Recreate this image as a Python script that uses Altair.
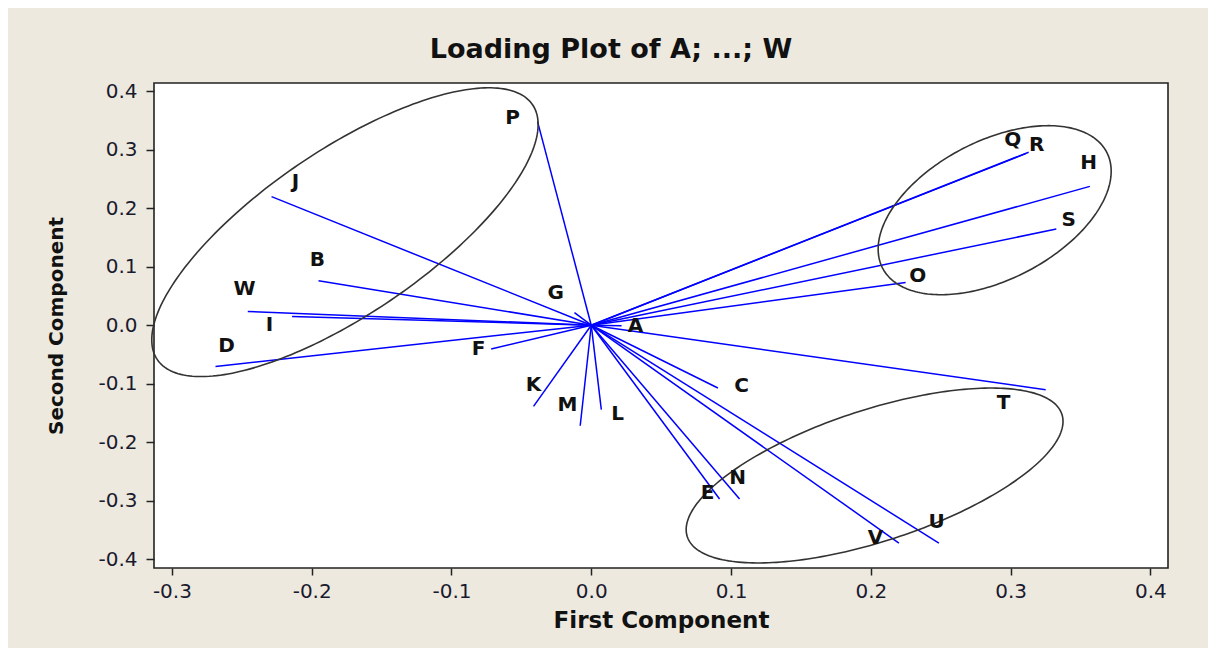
import altair as alt
import numpy as np
import pandas as pd

# ---- data ----
variables = ["A", "B", "C", "D", "E", "F", "G", "H", "I", "J", "K", "L",
             "M", "N", "O", "P", "Q", "R", "S", "T", "U", "V", "W"]
first_comp = [0.0217, -0.1951, 0.0906, -0.2688, 0.0918, -0.0716, -0.0120, 0.3567,
              -0.2140, -0.2287, -0.0413, 0.0072, -0.0079, 0.1061, 0.2249, -0.0384,
              0.3108, 0.3129, 0.3327, 0.3251, 0.2487, 0.2201, -0.2457]
second_comp = [-0.0009, 0.0761, -0.1074, -0.0704, -0.2971, -0.0407, 0.0214, 0.2373,
               0.0150, 0.2197, -0.1388, -0.1444, -0.1718, -0.2971, 0.0732, 0.3480,
               0.2932, 0.2957, 0.1644, -0.1103, -0.3723, -0.3723, 0.0236]
# label anchor positions (data units)
label_x = [0.0317, -0.1959, 0.1075, -0.2609, 0.0832, -0.0806, -0.0255, 0.3558,
           -0.2302, -0.2116, -0.0413, 0.0188, -0.0170, 0.1047, 0.2335, -0.0563,
           0.3015, 0.3186, 0.3415, 0.2950, 0.2471, 0.2034, -0.2480]
label_y = [-0.0009, 0.1120, -0.1034, -0.0350, -0.2863, -0.0402, 0.0556, 0.2778,
           0.0009, 0.2453, -0.1017, -0.1513, -0.1359, -0.2607, 0.0846, 0.3547,
           0.3171, 0.3085, 0.1803, -0.1325, -0.3359, -0.3632, 0.0624]

# ellipses drawn around groups: centre, semi-major vector, semi-minor vector (data units)
ell_names = ["left", "upper right", "lower right"]
ell_cx = [-0.1762, 0.2886, 0.2027]
ell_cy = [0.1590, 0.1966, -0.2569]
ell_ux = [0.1342, 0.0802, 0.1340]
ell_uy = [0.2179, 0.0989, 0.1046]
ell_vx = [0.0330, 0.0227, 0.0146]
ell_vy = [-0.1159, -0.1053, -0.1068]

x_ticks = [-0.3, -0.2, -0.1, 0.0, 0.1, 0.2, 0.3, 0.4]
y_ticks = [-0.4, -0.3, -0.2, -0.1, 0.0, 0.1, 0.2, 0.3, 0.4]

# ---- tables ----
vec = pd.DataFrame({"var": variables, "pc1": first_comp, "pc2": second_comp,
                    "lx": label_x, "ly": label_y})

t = np.linspace(0, 2 * np.pi, 241)
rows = []
for i, n in enumerate(ell_names):
    for k, a in enumerate(t):
        rows.append({"ell": n, "k": k,
                     "ex": ell_cx[i] + ell_ux[i] * np.cos(a) + ell_vx[i] * np.sin(a),
                     "ey": ell_cy[i] + ell_uy[i] * np.cos(a) + ell_vy[i] * np.sin(a)})
ell = pd.DataFrame(rows)

XDOM = [-0.3128, 0.4126]
YDOM = [-0.415, 0.414]
MINUS = "\u2212"
lab_expr = f"replace(format(datum.value, '.1f'), '{MINUS}', '-')"

xscale = alt.Scale(domain=XDOM, nice=False, zero=False)
yscale = alt.Scale(domain=YDOM, nice=False, zero=False)

xaxis = alt.Axis(values=x_ticks, labelExpr=lab_expr, title="First Component",
                 grid=False, domain=False, tickSize=7, tickColor="#222", tickWidth=1.5,
                 labelFont="DejaVu Sans", labelFontSize=20, labelColor="#1a1a2e",
                 labelPadding=6, titleFont="DejaVu Sans", titleFontSize=23,
                 titleFontWeight="bold", titleColor="#111", titleY=52,
                 titleBaseline="middle")
yaxis = alt.Axis(values=y_ticks, labelExpr=lab_expr, title="Second Component",
                 grid=False, domain=False, tickSize=8, tickColor="#222", tickWidth=1.5,
                 labelFont="DejaVu Sans", labelFontSize=20, labelColor="#1a1a2e",
                 labelPadding=9, titleFont="DejaVu Sans", titleFontSize=20,
                 titleFontWeight="bold", titleColor="#111", titleX=-98,
                 titleBaseline="middle")

rules = alt.Chart(vec).mark_rule(color="#0000ff", strokeWidth=1.5).transform_calculate(
    x0="0", y0="0"
).encode(
    x=alt.X("x0:Q", scale=xscale, axis=xaxis),
    y=alt.Y("y0:Q", scale=yscale, axis=yaxis),
    x2="pc1:Q",
    y2="pc2:Q",
)

labels = alt.Chart(vec).mark_text(font="DejaVu Sans", fontWeight="bold", fontSize=20,
                                  color="#111", align="center", baseline="middle").encode(
    x=alt.X("lx:Q", scale=xscale),
    y=alt.Y("ly:Q", scale=yscale),
    text="var:N",
)

ellipses = alt.Chart(ell).mark_line(color="#333333", strokeWidth=1.6).encode(
    x=alt.X("ex:Q", scale=xscale),
    y=alt.Y("ey:Q", scale=yscale),
    detail="ell:N",
    order="k:Q",
)

chart = alt.layer(rules, ellipses, labels).properties(
    width=1014,
    height=485,
    autosize=alt.AutoSizeParams(type="none"),
    padding={"left": 146, "top": 75, "right": 40, "bottom": 80},
    background="#EDE9DF",
    title=alt.TitleParams("Loading Plot of A; ...; W", font="DejaVu Sans", fontSize=27,
                          fontWeight="bold", color="#111", anchor="middle",
                          dx=-50, offset=17),
).configure_view(fill="white", stroke="#222", strokeWidth=1.6)

chart.save("out.html", embed_options={"renderer": "svg", "actions": False})
